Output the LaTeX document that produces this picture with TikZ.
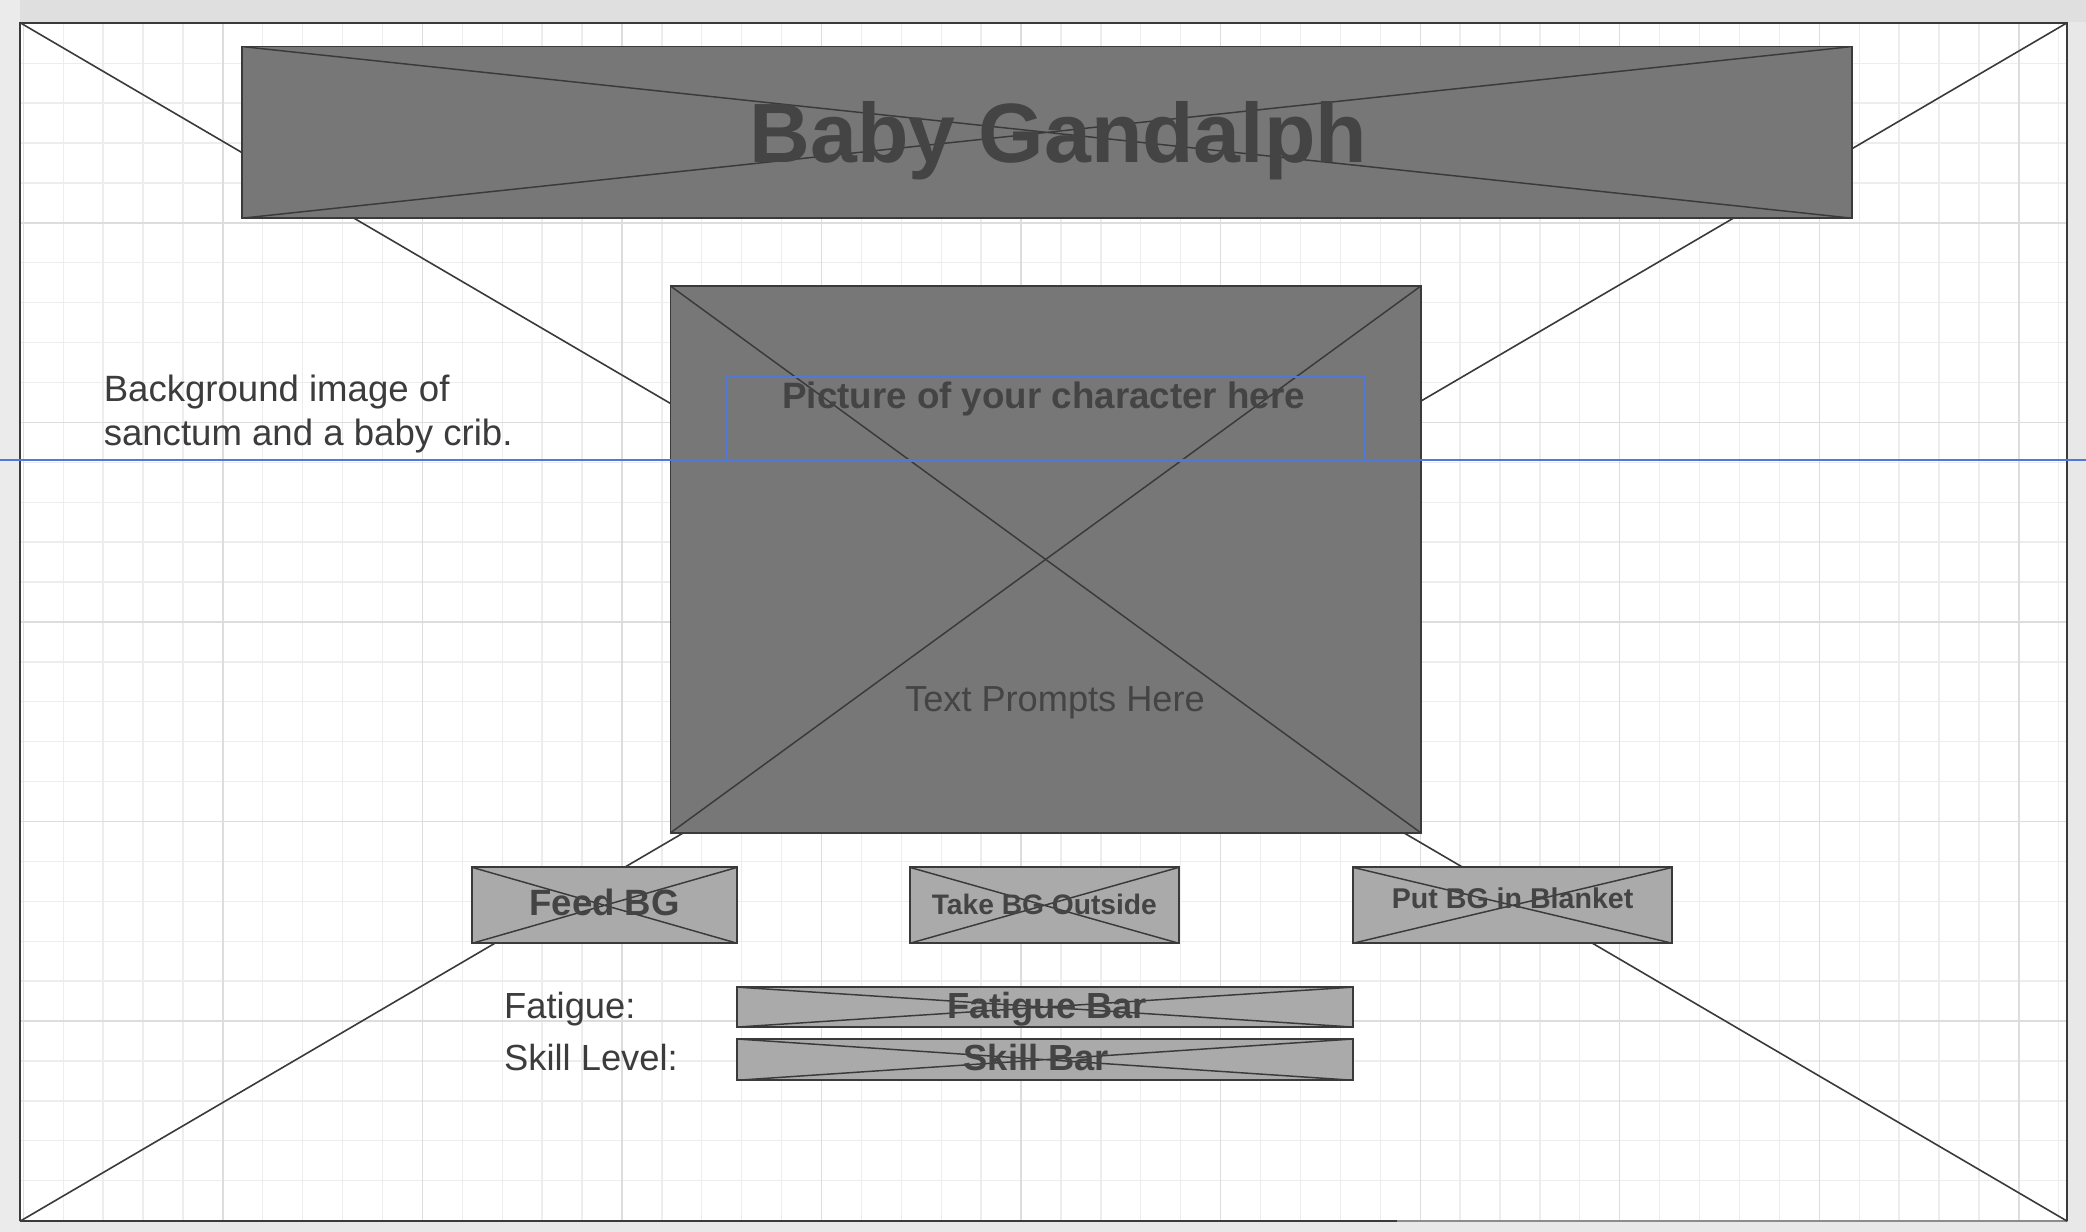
\documentclass[tikz,border=0pt]{standalone}
\usepackage{fontspec}
\setmainfont{Liberation Sans}
\definecolor{fillD}{HTML}{777777}
\definecolor{fillL}{HTML}{AAAAAA}
\definecolor{strokeC}{HTML}{3A3A3A}
\definecolor{textC}{HTML}{444444}
\definecolor{lblC}{HTML}{3C3C3C}
\definecolor{blueC}{HTML}{4F78D8}
\definecolor{gridMinor}{HTML}{EDEDED}
\definecolor{gridMajor}{HTML}{DDDDDD}
\definecolor{topBand}{HTML}{DFDFDF}
\definecolor{sideBand}{HTML}{EBEBEB}
\definecolor{botBand}{HTML}{E8E8E8}
\tikzset{
  xbox/.style={draw=strokeC, line width=1.4pt, inner sep=0pt, outer sep=0pt, anchor=north west,
    path picture={\draw[strokeC, line width=1.1pt]
      (path picture bounding box.north west) -- (path picture bounding box.south east)
      (path picture bounding box.south west) -- (path picture bounding box.north east);}},
  darkbox/.style={xbox, fill=fillD},
  lightbox/.style={xbox, fill=fillL},
  btxt/.style={inner sep=0pt, outer sep=0pt, text=textC, anchor=base, font=\bfseries},
  rtxt/.style={inner sep=0pt, outer sep=0pt, text=lblC, anchor=base west},
  diag/.style={strokeC, line width=1.2pt},
}
\begin{document}
\begin{tikzpicture}[x=1pt, y=-1pt]
\useasboundingbox (0,0) rectangle (1568,926);
% surroundings
\fill[botBand] (0,0) rectangle (1568,926);
\fill[sideBand] (0,0) rectangle (15,926);
\fill[topBand] (15,0) rectangle (1568,16.5);
% canvas
\node[fill=white, inner sep=0pt, outer sep=0pt, anchor=north west,
      minimum width=1539pt, minimum height=901pt] (frame) at (15,17) {};
\begin{scope}
  \clip (15,17) rectangle (1554,918);
  \foreach \k in {0,...,51} {\draw[gridMinor, line width=1pt] ({17.5+30*\k},17) -- ({17.5+30*\k},918);}
  \foreach \k in {0,...,30} {\draw[gridMinor, line width=1pt] (15,{17.5+30*\k}) -- (1554,{17.5+30*\k});}
  \foreach \k in {0,...,10} {\draw[gridMajor, line width=1pt] ({17.5+150*\k},17) -- ({17.5+150*\k},918);}
  \foreach \k in {0,...,6} {\draw[gridMajor, line width=1pt] (15,{17.5+150*\k}) -- (1554,{17.5+150*\k});}
\end{scope}
% frame border
\draw[strokeC, line width=1.5pt] (frame.south west) -- (frame.north west) -- (frame.north east) -- (frame.south east);
\coordinate (bsplit) at (1050,918);
\draw[strokeC, line width=1.5pt] (frame.south west) -- (bsplit);
\draw[black!45, line width=1.5pt] (bsplit) -- (frame.south east);
% big diagonals
\draw[diag] (frame.north west) -- (frame.south east);
\draw[diag] (frame.north east) -- (frame.south west);
% title
\node[darkbox, minimum width=1210pt, minimum height=129pt] (title) at (182,35) {};
% central picture
\node[darkbox, minimum width=564pt, minimum height=411pt] (pic) at (504,215) {};
% buttons
\node[lightbox, minimum width=199pt, minimum height=57pt] (feed) at (355,652) {};
\node[lightbox, minimum width=202pt, minimum height=57pt] (outside) at (684,652) {};
\node[lightbox, minimum width=240pt, minimum height=57pt] (blanket) at (1017,652) {};
% bars
\node[lightbox, minimum width=463pt, minimum height=30pt] (fbar) at (554,742) {};
\node[lightbox, minimum width=463pt, minimum height=31pt] (sbar) at (554,781) {};
% texts
\node[btxt, font=\bfseries\fontsize{63.3}{64}\selectfont] (titletxt) at (795.5,122.5) {Baby Gandalph};
\node[btxt, font=\bfseries\fontsize{27.6}{30}\selectfont] (pictxt) at (784.5,307) {Picture of your character here};
\node[inner sep=0pt, text=textC, anchor=base, font=\fontsize{27.2}{30}\selectfont] (prompts) at (793,535) {Text Prompts Here};
\node[rtxt, font=\fontsize{27.5}{33}\selectfont] (bg1) at (78,302) {Background image of};
\node[rtxt, font=\fontsize{27.5}{33}\selectfont] (bg2) at (78,335) {sanctum and a baby crib.};
\node[btxt, font=\bfseries\fontsize{27.5}{30}\selectfont] (feedtxt) at (454.5,688) {Feed BG};
\node[btxt, font=\bfseries\fontsize{21.2}{24}\selectfont] (outsidetxt) at (785,687.5) {Take BG Outside};
\node[btxt, font=\bfseries\fontsize{21.5}{24}\selectfont] (blankettxt) at (1137,683) {Put BG in Blanket};
\node[btxt, font=\bfseries\fontsize{27.3}{30}\selectfont] (fbartxt) at (787,765.5) {Fatigue Bar};
\node[btxt, font=\bfseries\fontsize{27.3}{30}\selectfont] (sbartxt) at (779,805) {Skill Bar};
\node[rtxt, font=\fontsize{27.3}{30}\selectfont] (flbl) at (379,765.5) {Fatigue:};
\node[rtxt, font=\fontsize{27.3}{30}\selectfont] (slbl) at (379,804.5) {Skill Level:};
% blue text frame and guide line
\node[draw=blueC, line width=1.4pt, inner sep=0pt, anchor=north west,
      minimum width=480pt, minimum height=63pt] (picbox) at (545,283) {};
\coordinate (guideL) at (0,346);
\coordinate (guideR) at (1568,346);
\draw[blueC, line width=1.3pt] (guideL) -- (guideR);
\end{tikzpicture}
\end{document}
